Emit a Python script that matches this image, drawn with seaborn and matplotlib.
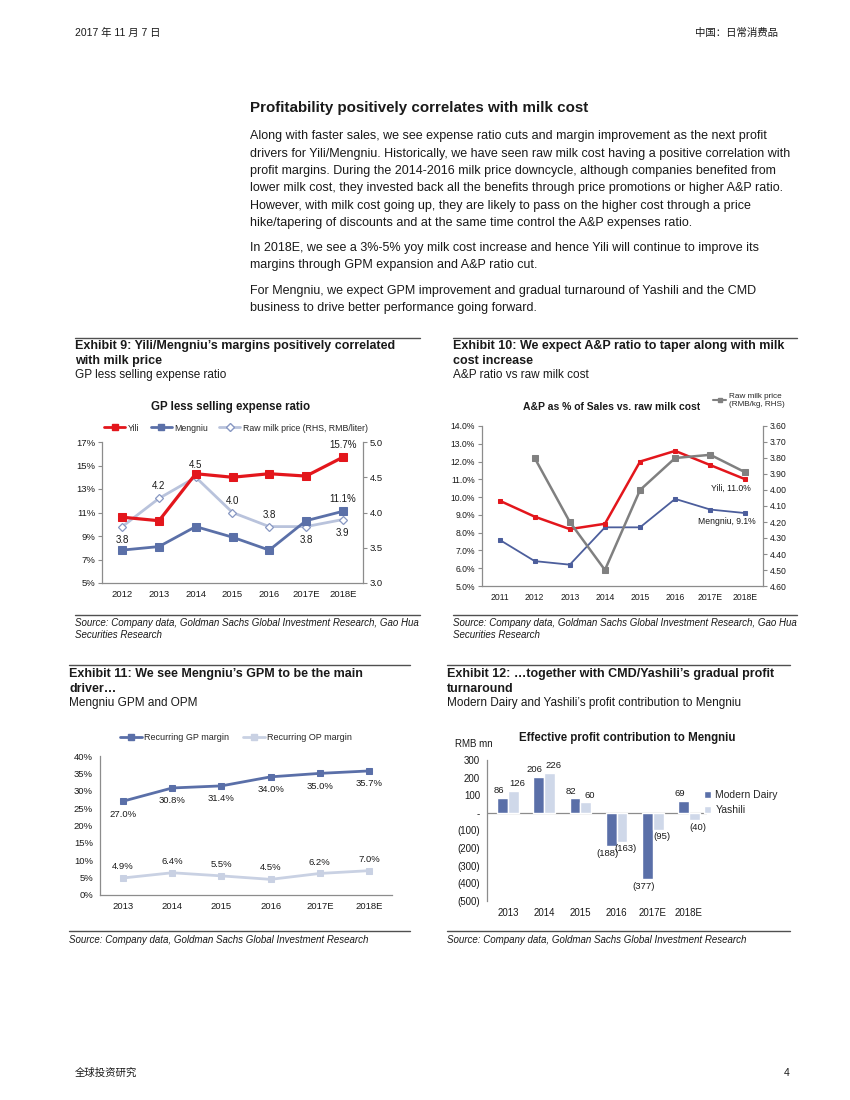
import numpy as np
import pandas as pd
import matplotlib
matplotlib.use("Agg")
import matplotlib.pyplot as plt
import seaborn as sns
from matplotlib.ticker import FuncFormatter, MultipleLocator, FixedLocator
from matplotlib.lines import Line2D

sns.set_style("white")
plt.rcParams['font.family'] = ['Liberation Sans', 'Noto Sans CJK SC', 'DejaVu Sans']

# ---------------- Data ----------------
ex9_years = ["2012", "2013", "2014", "2015", "2016", "2017E", "2018E"]
ex9_yili = [10.6, 10.3, 14.3, 14.0, 14.3, 14.1, 15.7]
ex9_mengniu = [7.8, 8.1, 9.8, 8.9, 7.8, 10.3, 11.1]
ex9_milk = [3.8, 4.2, 4.5, 4.0, 3.8, 3.8, 3.9]

ex10_years = ["2011", "2012", "2013", "2014", "2015", "2016", "2017E", "2018E"]
ex10_yili = [9.8, 8.9, 8.2, 8.5, 12.0, 12.6, 11.8, 11.0]
ex10_mengniu = [7.6, 6.4, 6.2, 8.3, 8.3, 9.9, 9.3, 9.1]
ex10_milk = [np.nan, 3.80, 4.20, 4.50, 4.00, 3.80, 3.78, 3.89]

ex11_years = ["2013", "2014", "2015", "2016", "2017E", "2018E"]
ex11_gp = [27.0, 30.8, 31.4, 34.0, 35.0, 35.7]
ex11_op = [4.9, 6.4, 5.5, 4.5, 6.2, 7.0]

ex12_years = ["2013", "2014", "2015", "2016", "2017E", "2018E"]
ex12_modern = [86, 206, 82, -188, -377, 69]
ex12_yashili = [126, 226, 60, -163, -95, -40]

# label placement styles (1 = above, -1 = below)
ex9_milk_side = [-1, 1, 1, 1, 1, -1, -1]

# ---------------- Figure helpers ----------------
W, H = 850, 1100
fig = plt.figure(figsize=(8.5, 11), dpi=100)
fig.patch.set_facecolor("white")


def add_ax(x0, y0, x1, y1):
    return fig.add_axes([x0 / W, 1 - y1 / H, (x1 - x0) / W, (y1 - y0) / H])


def txt(x, y, s, **kw):
    kw.setdefault("va", "center")
    return fig.text(x / W, 1 - y / H, s, **kw)


def hline(x0, x1, y, lw=1.0, color="#505050"):
    fig.add_artist(Line2D([x0 / W, x1 / W], [1 - y / H, 1 - y / H], lw=lw,
                          color=color, transform=fig.transFigure))


TXT = "#1a1a1a"
AXC = "#8c8c8c"
EX_T = 9.0
EX_S = 8.5
SRC = 7.0

# ---------------- Page text ----------------
txt(75, 33, "2017 年 11 月 7 日", fontsize=7.5, color=TXT)
txt(778, 33, "中国：日常消费品", fontsize=7.5, color=TXT, ha="right")

txt(250, 108, "Profitability positively correlates with milk cost", fontsize=10.9,
    weight="bold", color=TXT)

body = [
    (136, "Along with faster sales, we see expense ratio cuts and margin improvement as the next profit"),
    (154, "drivers for Yili/Mengniu. Historically, we have seen raw milk cost having a positive correlation with"),
    (171, "profit margins. During the 2014-2016 milk price downcycle, although companies benefited from"),
    (188, "lower milk cost, they invested back all the benefits through price promotions or higher A&P ratio."),
    (206, "However, with milk cost going up, they are likely to pass on the higher cost through a price"),
    (223, "hike/tapering of discounts and at the same time control the A&P expenses ratio."),
    (248, "In 2018E, we see a 3%-5% yoy milk cost increase and hence Yili will continue to improve its"),
    (265, "margins through GPM expansion and A&P ratio cut."),
    (291, "For Mengniu, we expect GPM improvement and gradual turnaround of Yashili and the CMD"),
    (308, "business to drive better performance going forward."),
]
for y, s in body:
    txt(250, y, s, fontsize=9.0, color=TXT)

# Exhibit headers
hline(75, 420, 338)
hline(453, 797, 338)
txt(75, 346, "Exhibit 9: Yili/Mengniu’s margins positively correlated", fontsize=EX_T, weight="bold", color=TXT)
txt(75, 361, "with milk price", fontsize=EX_T, weight="bold", color=TXT)
txt(75, 375, "GP less selling expense ratio", fontsize=EX_S, color=TXT)
txt(453, 346, "Exhibit 10: We expect A&P ratio to taper along with milk", fontsize=EX_T, weight="bold", color=TXT)
txt(453, 361, "cost increase", fontsize=EX_T, weight="bold", color=TXT)
txt(453, 375, "A&P ratio vs raw milk cost", fontsize=EX_S, color=TXT)

hline(75, 420, 615)
hline(453, 797, 615)
txt(75, 623, "Source: Company data, Goldman Sachs Global Investment Research, Gao Hua", fontsize=SRC, style="italic", color=TXT)
txt(75, 635, "Securities Research", fontsize=SRC, style="italic", color=TXT)
txt(453, 623, "Source: Company data, Goldman Sachs Global Investment Research, Gao Hua", fontsize=SRC, style="italic", color=TXT)
txt(453, 635, "Securities Research", fontsize=SRC, style="italic", color=TXT)

hline(69, 410, 665)
hline(447, 790, 665)
txt(69, 674, "Exhibit 11: We see Mengniu’s GPM to be the main", fontsize=EX_T, weight="bold", color=TXT)
txt(69, 689, "driver…", fontsize=EX_T, weight="bold", color=TXT)
txt(69, 703, "Mengniu GPM and OPM", fontsize=EX_S, color=TXT)
txt(447, 674, "Exhibit 12: …together with CMD/Yashili’s gradual profit", fontsize=EX_T, weight="bold", color=TXT)
txt(447, 689, "turnaround", fontsize=EX_T, weight="bold", color=TXT)
txt(447, 703, "Modern Dairy and Yashili’s profit contribution to Mengniu", fontsize=EX_S, color=TXT)

hline(69, 410, 931)
hline(447, 790, 931)
txt(69, 940, "Source: Company data, Goldman Sachs Global Investment Research", fontsize=SRC, style="italic", color=TXT)
txt(447, 940, "Source: Company data, Goldman Sachs Global Investment Research", fontsize=SRC, style="italic", color=TXT)

txt(75, 1073, "全球投资研究", fontsize=7.5, color=TXT)
txt(790, 1073, "4", fontsize=7.5, color=TXT, ha="right")


def style_axis(ax, left=True, right=False, bottom=True):
    for side in ["top", "right", "left", "bottom"]:
        ax.spines[side].set_visible(False)
    for side, on in [("left", left), ("right", right), ("bottom", bottom)]:
        if on:
            ax.spines[side].set_visible(True)
            ax.spines[side].set_color(AXC)
            ax.spines[side].set_linewidth(0.9)
    ax.tick_params(axis="both", labelsize=6.8, colors=TXT, length=3, width=0.8,
                   direction="out", pad=2)
    ax.tick_params(axis="both", color=AXC)
    ax.set_xlabel("")
    ax.set_ylabel("")
    ax.grid(False)
    ax.set_facecolor("none")


# ---------------- Exhibit 9 ----------------
YILI_RED = "#e3161c"
MN_BLUE = "#5b70a8"
MILK9 = "#b9c3dc"

df9 = pd.DataFrame({"x": np.arange(len(ex9_years)), "Yili": ex9_yili,
                    "Mengniu": ex9_mengniu, "Milk": ex9_milk})
ax1 = add_ax(102, 442, 363, 583)
ax1b = ax1.twinx()
sns.lineplot(data=df9, x="x", y="Milk", ax=ax1b, color=MILK9, lw=2.0, marker="D",
             markersize=4.5, markerfacecolor="white", markeredgecolor="#8797c2",
             markeredgewidth=0.9, zorder=2)
sns.lineplot(data=df9, x="x", y="Mengniu", ax=ax1, color=MN_BLUE, lw=2.0, marker="s",
             markersize=6, markeredgecolor=MN_BLUE)
sns.lineplot(data=df9, x="x", y="Yili", ax=ax1, color=YILI_RED, lw=2.3, marker="s",
             markersize=6, markeredgecolor=YILI_RED)
ax1.set_zorder(ax1b.get_zorder() + 1)
ax1.patch.set_visible(False)
ax1.set_xlim(-0.55, len(ex9_years) - 0.45)
ax1.set_ylim(5, 17)
ax1.yaxis.set_major_locator(FixedLocator(np.arange(5, 18, 2)))
ax1.yaxis.set_major_formatter(FuncFormatter(lambda v, p: f"{v:.0f}%"))
ax1.set_xticks(df9["x"])
ax1.set_xticklabels(ex9_years)
ax1b.set_ylim(3, 5)
ax1b.yaxis.set_major_locator(MultipleLocator(0.5))
ax1b.yaxis.set_major_formatter(FuncFormatter(lambda v, p: f"{v:.1f}"))
style_axis(ax1, left=True, right=False, bottom=True)
style_axis(ax1b, left=False, right=True, bottom=False)
ax1b.tick_params(axis="x", length=0)
for xi, v, side in zip(df9["x"], ex9_milk, ex9_milk_side):
    ax1b.annotate(f"{v:.1f}", (xi, v), xytext=(0, 5 if side > 0 else -6),
                  textcoords="offset points", ha="center",
                  va="bottom" if side > 0 else "top", fontsize=7, color=TXT)
ax1.annotate(f"{ex9_yili[-1]:.1f}%", (df9["x"].iloc[-1], ex9_yili[-1]), xytext=(0, 5),
             textcoords="offset points", ha="center", va="bottom", fontsize=7, color=TXT)
ax1.annotate(f"{ex9_mengniu[-1]:.1f}%", (df9["x"].iloc[-1], ex9_mengniu[-1]), xytext=(0, 5),
             textcoords="offset points", ha="center", va="bottom", fontsize=7, color=TXT)
txt(231, 407, "GP less selling expense ratio", fontsize=8.3, weight="bold", color=TXT, ha="center")
h9 = [Line2D([], [], color=YILI_RED, lw=2, marker="s", markersize=5),
      Line2D([], [], color=MN_BLUE, lw=2, marker="s", markersize=5),
      Line2D([], [], color=MILK9, lw=2, marker="D", markersize=4, markerfacecolor="white",
             markeredgecolor="#8797c2")]
fig.legend(h9, ["Yili", "Mengniu", "Raw milk price (RHS, RMB/liter)"], loc="center",
           bbox_to_anchor=(236 / W, 1 - 428 / H), ncol=3, frameon=False, fontsize=6.3,
           handlelength=2.4, columnspacing=1.3, handletextpad=0.3)

# ---------------- Exhibit 10 ----------------
MN10 = "#4c5e9c"
MILK10 = "#808080"
df10 = pd.DataFrame({"x": np.arange(len(ex10_years)), "Yili": ex10_yili,
                     "Mengniu": ex10_mengniu, "Milk": ex10_milk})
ax2 = add_ax(482, 426, 763, 586)
ax2b = ax2.twinx()
sns.lineplot(data=df10.dropna(), x="x", y="Milk", ax=ax2b, color=MILK10, lw=1.8, marker="s",
             markersize=4.5, markeredgecolor=MILK10)
sns.lineplot(data=df10, x="x", y="Mengniu", ax=ax2, color=MN10, lw=1.3, marker="s",
             markersize=3, markeredgecolor=MN10)
sns.lineplot(data=df10, x="x", y="Yili", ax=ax2, color=YILI_RED, lw=1.8, marker="s",
             markersize=3, markeredgecolor=YILI_RED)
ax2.set_xlim(-0.5, len(ex10_years) - 0.5)
ax2.set_ylim(5, 14)
ax2.yaxis.set_major_locator(MultipleLocator(1))
ax2.yaxis.set_major_formatter(FuncFormatter(lambda v, p: f"{v:.1f}%"))
ax2.set_xticks(df10["x"])
ax2.set_xticklabels(ex10_years)
ax2b.set_ylim(4.6, 3.6)
ax2b.yaxis.set_major_locator(MultipleLocator(0.1))
ax2b.yaxis.set_major_formatter(FuncFormatter(lambda v, p: f"{v:.2f}"))
style_axis(ax2, left=True, right=False, bottom=True)
style_axis(ax2b, left=False, right=True, bottom=False)
ax2.tick_params(labelsize=6.2)
ax2b.tick_params(labelsize=6.2)
ax2b.tick_params(axis="x", length=0)
ax2.annotate(f"Yili, {ex10_yili[-1]:.1f}%", (df10["x"].iloc[-1], ex10_yili[-1]),
             xytext=(4, -3), textcoords="offset points", ha="right", va="top",
             fontsize=6.2, color=TXT)
ax2.annotate(f"Mengniu, {ex10_mengniu[-1]:.1f}%", (df10["x"].iloc[-1], ex10_mengniu[-1]),
             xytext=(7, -2.5), textcoords="offset points", ha="right", va="top",
             fontsize=6.2, color=TXT)
txt(612, 407, "A&P as % of Sales vs. raw milk cost", fontsize=7.5, weight="bold", color=TXT, ha="center")
fig.legend([Line2D([], [], color=MILK10, lw=1.5, marker="s", markersize=3.5)],
           ["Raw milk price\n(RMB/kg, RHS)"], loc="upper left",
           bbox_to_anchor=(713 / W, 1 - 393 / H), frameon=False, fontsize=5.9,
           handlelength=1.6, handletextpad=0.3, borderpad=0, borderaxespad=0)

# ---------------- Exhibit 11 ----------------
GP_C = "#5a6fa8"
OP_C = "#c9d1e3"
df11 = pd.DataFrame({"x": np.arange(len(ex11_years)), "GP": ex11_gp, "OP": ex11_op})
ax3 = add_ax(100, 756, 392, 895)
sns.lineplot(data=df11, x="x", y="GP", ax=ax3, color=GP_C, lw=2.0, marker="s",
             markersize=4.2, markeredgecolor=GP_C)
sns.lineplot(data=df11, x="x", y="OP", ax=ax3, color=OP_C, lw=2.0, marker="s",
             markersize=4.2, markeredgecolor=OP_C)
ax3.set_xlim(-0.47, len(ex11_years) - 0.53)
ax3.set_ylim(0, 40)
ax3.yaxis.set_major_locator(MultipleLocator(5))
ax3.yaxis.set_major_formatter(FuncFormatter(lambda v, p: f"{v:.0f}%"))
ax3.set_xticks(df11["x"])
ax3.set_xticklabels(ex11_years)
style_axis(ax3, left=True, right=False, bottom=True)
for xi, v in zip(df11["x"], ex11_gp):
    ax3.annotate(f"{v:.1f}%", (xi, v), xytext=(0, -6), textcoords="offset points",
                 ha="center", va="top", fontsize=6.8, color=TXT)
for xi, v in zip(df11["x"], ex11_op):
    ax3.annotate(f"{v:.1f}%", (xi, v), xytext=(0, 5), textcoords="offset points",
                 ha="center", va="bottom", fontsize=6.8, color=TXT)
h11 = [Line2D([], [], color=GP_C, lw=2, marker="s", markersize=4),
       Line2D([], [], color=OP_C, lw=2, marker="s", markersize=4)]
fig.legend(h11, ["Recurring GP margin", "Recurring OP margin"], loc="center",
           bbox_to_anchor=(236 / W, 1 - 738 / H), ncol=2, frameon=False, fontsize=6.5,
           handlelength=2.4, columnspacing=1.5, handletextpad=0.3)

# ---------------- Exhibit 12 ----------------
MD_C = "#5a6fa8"
YA_C = "#cfd8e9"
df12 = pd.DataFrame({
    "year": ex12_years * 2,
    "series": ["Modern Dairy"] * len(ex12_years) + ["Yashili"] * len(ex12_years),
    "value": ex12_modern + ex12_yashili,
})
ax4 = add_ax(487, 760, 707, 901)
sns.barplot(data=df12, x="year", y="value", hue="series", palette=[MD_C, YA_C],
            width=0.6, saturation=1, ax=ax4, order=ex12_years,
            hue_order=["Modern Dairy", "Yashili"])
ax4.axhline(0, color=AXC, lw=0.9, zorder=0)
ax4.set_xlim(-0.58, len(ex12_years) - 0.5)
ax4.set_ylim(-500, 300)
ax4.yaxis.set_major_locator(MultipleLocator(100))


def paren_fmt(v, p):
    if abs(v) < 1e-9:
        return "-"
    if v < 0:
        return f"({abs(v):.0f})"
    return f"{v:.0f}"


ax4.yaxis.set_major_formatter(FuncFormatter(paren_fmt))
style_axis(ax4, left=True, right=False, bottom=False)
ax4.tick_params(axis="x", length=0, pad=5)
ax4.tick_params(labelsize=7)
# bar value labels, nudged sideways so neighbouring labels do not collide
for cont, vals, dx in zip(ax4.containers, [ex12_modern, ex12_yashili], [-2.8, 2.8]):
    for bar, v in zip(cont, vals):
        xc = bar.get_x() + bar.get_width() / 2
        lab = f"{v}" if v >= 0 else f"({abs(v)})"
        ax4.annotate(lab, (xc, v), xytext=(dx, 2 if v >= 0 else -2),
                     textcoords="offset points", ha="center",
                     va="bottom" if v >= 0 else "top", fontsize=6.8, color=TXT)
hnd, lab = ax4.get_legend_handles_labels()
if ax4.get_legend() is not None:
    ax4.get_legend().remove()
fig.legend(hnd, lab, loc="upper left", bbox_to_anchor=(704 / W, 1 - 790 / H),
           frameon=False, fontsize=7.5, handlelength=0.7, handleheight=0.7,
           handletextpad=0.4, labelspacing=0.5, borderpad=0, borderaxespad=0)
txt(455, 744, "RMB mn", fontsize=7, color=TXT)
txt(627, 738, "Effective profit contribution to Mengniu", fontsize=8.3, weight="bold",
    color=TXT, ha="center")

fig.savefig("out.png", dpi=100, facecolor="white")
